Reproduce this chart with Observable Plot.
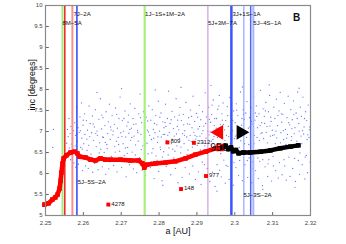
<!DOCTYPE html>
<html><head><meta charset="utf-8">
<script src="https://cdn.jsdelivr.net/npm/d3@7"></script>
<script src="https://cdn.jsdelivr.net/npm/@observablehq/plot@0.6"></script>
<style>body{margin:0;background:#fff;}</style>
</head><body><div id="chart"></div>
<script>
// resonance lines
const resA = [2.2545, 2.2551, 2.2571, 2.2583, 2.2762, 2.2929, 2.2991, 2.3024, 2.3042, 2.3049];
const resColor = ["#a6e87a", "#ee2222", "#f49090", "#2a44ff", "#a8f07a", "#c48ae0", "#3a55ff", "#8090ff", "#4a66ff", "#a8b6ff"];
const resWidth = [2, 1.5, 2, 1.5, 2.2, 1, 2.5, 1, 1.5, 2];
// resonance labels
const resLabel = ["7J\u22122A", "8M\u22125A", "1J\u22121S+1M\u22122A", "5J+3M\u22127A", "3J+1S\u22121A", "5J\u22124S\u22121A", "5J\u22125S\u22122A", "5J\u22123S\u22122A"];
const resLabelA = [2.2574, 2.2545, 2.2763, 2.2929, 2.2994, 2.3049, 2.2585, 2.3023];
const resLabelI = [9.79, 9.57, 9.79, 9.57, 9.79, 9.57, 5.79, 5.48];
// red track (past) and black track (future)
const redA = [2.2497, 2.2508, 2.2518, 2.2526, 2.2532, 2.2537, 2.2540, 2.2542, 2.2545, 2.2548, 2.2555, 2.2566, 2.2577, 2.2584, 2.2590, 2.2606, 2.2619, 2.2632, 2.2645, 2.2658, 2.2672, 2.2698, 2.2724, 2.2746, 2.2756, 2.2761, 2.2767, 2.2790, 2.2817, 2.2843, 2.2870, 2.2896, 2.2923, 2.2949, 2.2967];
const redI = [5.26, 5.29, 5.38, 5.43, 5.50, 5.64, 5.83, 6.02, 6.24, 6.36, 6.43, 6.50, 6.52, 6.48, 6.40, 6.38, 6.33, 6.31, 6.36, 6.33, 6.33, 6.33, 6.31, 6.31, 6.24, 6.14, 6.21, 6.24, 6.26, 6.29, 6.36, 6.45, 6.52, 6.60, 6.62];
const blackA = [2.2967, 2.2976, 2.2983, 2.2990, 2.2996, 2.3003, 2.3010, 2.3023, 2.3041, 2.3068, 2.3094, 2.3120, 2.3147, 2.3168];
const blackI = [6.62, 6.66, 6.58, 6.62, 6.53, 6.56, 6.48, 6.50, 6.50, 6.52, 6.55, 6.60, 6.64, 6.67];
// numbered asteroids
const numA = [2.2822, 2.2892, 2.2924, 2.2858, 2.2666];
const numI = [6.74, 6.73, 5.94, 5.63, 5.26];
const numLabel = ["809", "2312", "977", "148", "4278"];
// background asteroids
const background = [
[2.2521,7.05],[2.2519,6.62],
[2.2556,6.72],[2.2558,7.05],[2.2560,6.88],[2.2562,7.31],[2.2563,6.61],[2.2565,6.95],[2.2567,7.12],[2.2569,6.70],[2.2571,7.44],[2.2572,6.83],[2.2574,7.02],[2.2575,6.25],
[2.2577,7.21],[2.2579,6.91],[2.2580,6.15],[2.2582,7.58],[2.2584,6.77],[2.2586,7.09],[2.2587,6.22],[2.2589,6.98],[2.2591,7.35],[2.2593,6.62],[2.2595,7.68],[2.2596,6.84],[2.2598,6.07],[2.2599,7.15],
[2.2601,6.71],[2.2603,7.42],[2.2604,6.93],[2.2606,6.18],[2.2608,7.26],[2.2610,6.55],[2.2611,7.03],[2.2613,6.12],[2.2615,7.61],[2.2617,6.88],[2.2618,7.19],[2.2620,6.46],[2.2622,6.97],[2.2624,7.37],[2.2625,6.03],
[2.2627,6.79],[2.2629,7.11],[2.2630,6.24],[2.2632,7.52],[2.2634,6.64],[2.2636,7.01],[2.2637,6.91],[2.2639,6.09],[2.2641,7.29],[2.2643,6.73],[2.2645,7.78],[2.2646,6.58],[2.2648,7.06],[2.2650,6.16],
[2.2652,7.33],[2.2653,6.86],[2.2655,6.50],[2.2657,7.14],[2.2659,5.98],[2.2660,7.47],[2.2662,6.69],[2.2664,6.95],[2.2666,7.23],[2.2667,6.11],[2.2669,7.65],[2.2671,6.81],[2.2673,7.04],[2.2674,6.41],
[2.2676,7.38],[2.2678,6.92],[2.2680,6.19],[2.2682,7.17],[2.2683,6.64],[2.2685,7.56],[2.2687,6.77],[2.2689,6.04],[2.2690,7.08],[2.2692,6.86],[2.2694,7.31],[2.2696,6.53],[2.2697,7.82],[2.2699,6.97],
[2.2701,6.14],[2.2703,7.26],[2.2705,6.71],[2.2706,7.01],[2.2708,6.43],[2.2710,7.49],[2.2712,6.87],[2.2713,5.92],[2.2715,7.13],[2.2717,6.62],[2.2719,7.39],[2.2720,6.96],[2.2722,6.21],[2.2724,7.66],[2.2725,6.79],
[2.2727,7.08],[2.2729,6.51],[2.2731,7.31],[2.2732,6.11],[2.2734,6.89],[2.2736,7.55],[2.2738,6.68],[2.2739,7.18],[2.2741,6.02],[2.2743,7.02],[2.2745,6.77],[2.2746,7.42],[2.2748,6.38],[2.2750,7.89],
[2.2752,6.93],[2.2754,7.21],[2.2755,6.08],[2.2757,6.66],[2.2759,7.47],[2.2761,6.85],[2.2762,7.12],[2.2764,5.95],[2.2766,7.34],[2.2768,6.72],[2.2769,7.03],[2.2771,6.47],[2.2773,7.61],[2.2775,6.91],
[2.2777,6.14],[2.2778,7.27],[2.2780,6.81],[2.2782,7.52],[2.2784,6.59],[2.2785,7.05],[2.2787,5.88],[2.2789,6.97],[2.2791,7.38],[2.2792,6.42],[2.2794,7.16],[2.2796,6.74],[2.2798,7.72],[2.2799,6.05],
[2.2801,7.01],[2.2803,6.63],[2.2805,7.44],[2.2806,6.87],[2.2808,5.83],[2.2810,7.23],[2.2812,6.52],[2.2813,7.09],[2.2815,6.93],[2.2817,7.65],[2.2819,6.17],[2.2820,6.79],[2.2822,7.31],[2.2824,6.44],[2.2825,7.96],
[2.2827,6.98],[2.2829,7.19],[2.2831,5.97],[2.2833,6.71],[2.2834,7.48],[2.2836,6.58],[2.2838,7.07],[2.2840,6.89],[2.2841,7.35],[2.2843,6.12],[2.2845,7.78],[2.2847,6.66],[2.2848,7.12],[2.2850,5.78],
[2.2852,7.04],[2.2854,6.83],[2.2855,7.57],[2.2857,6.49],[2.2859,7.26],[2.2861,5.91],[2.2862,6.95],[2.2864,7.41],[2.2866,6.71],[2.2868,7.02],[2.2869,6.14],[2.2871,7.69],[2.2873,6.87],[2.2875,7.18],
[2.2876,6.56],[2.2878,7.33],[2.2880,5.99],[2.2882,6.91],[2.2883,7.51],[2.2885,6.76],[2.2887,7.09],[2.2889,6.18],[2.2890,7.84],[2.2892,6.98],[2.2894,7.24],[2.2896,5.86],[2.2897,6.82],[2.2899,7.43],
[2.2901,6.67],[2.2903,7.06],[2.2904,6.04],[2.2906,7.62],[2.2908,6.89],[2.2910,7.28],[2.2911,5.74],[2.2913,6.95],[2.2915,7.47],[2.2917,6.73],[2.2918,7.13],[2.2920,6.21],[2.2922,7.92],[2.2924,6.84],[2.2925,7.35],
[2.2927,6.12],[2.2929,7.01],[2.2931,7.58],[2.2932,6.92],[2.2934,5.81],[2.2936,7.22],[2.2938,6.77],[2.2939,7.41],[2.2941,6.03],[2.2943,7.75],[2.2945,6.88],[2.2946,7.14],[2.2948,5.69],[2.2950,6.97],
[2.2952,7.31],[2.2953,6.21],[2.2955,7.53],[2.2957,6.94],[2.2959,7.86],[2.2960,6.08],[2.2962,7.17],[2.2964,5.92],[2.2966,7.42],[2.2968,6.85],[2.2969,7.68],[2.2971,6.32],[2.2973,7.04],[2.2975,5.77],
[2.2976,7.26],[2.2978,6.91],[2.2980,7.59],[2.2982,6.17],[2.2983,7.12],[2.2985,5.86],[2.2987,7.81],[2.2989,6.96],[2.2990,7.37],[2.2992,6.28],[2.2994,7.02],[2.2996,5.72],[2.2997,7.49],[2.2999,6.83],
[2.3001,7.21],[2.3003,6.14],[2.3004,7.66],[2.3006,6.92],[2.3008,7.38],[2.3010,5.95],[2.3011,7.03],[2.3013,6.31],[2.3015,7.94],[2.3017,6.88],[2.3018,7.15],[2.3020,5.83],[2.3022,7.52],[2.3024,6.97],[2.3025,7.29],
[2.3027,6.21],[2.3029,7.44],[2.3031,6.86],[2.3032,7.71],[2.3034,5.91],[2.3036,7.08],[2.3038,6.37],[2.3039,7.33],[2.3041,6.94],[2.3043,7.57],[2.3045,5.78],[2.3046,7.18],[2.3048,6.12],[2.3050,7.83],
[2.3052,6.91],[2.3053,7.27],[2.3055,6.07],[2.3057,7.61],[2.3059,6.86],[2.3060,7.09],[2.3062,5.88],[2.3064,7.42],[2.3066,6.29],[2.3068,7.98],[2.3069,6.95],[2.3071,7.21],[2.3073,5.71],[2.3075,7.54],
[2.3076,6.83],[2.3078,7.36],[2.3080,6.16],[2.3082,7.69],[2.3083,6.98],[2.3085,7.12],[2.3087,5.93],[2.3089,7.47],[2.3090,6.33],[2.3092,7.86],[2.3094,6.89],[2.3096,7.24],[2.3097,5.82],[2.3099,7.03],
[2.3101,6.41],[2.3103,7.58],[2.3104,6.92],[2.3106,7.31],[2.3108,6.07],[2.3110,7.77],[2.3111,6.85],[2.3113,7.14],[2.3115,5.89],[2.3117,7.49],[2.3118,6.26],[2.3120,7.93],[2.3122,6.97],[2.3124,7.22],[2.3125,5.97],
[2.3127,7.41],[2.3129,6.81],[2.3131,7.67],[2.3132,6.18],[2.3134,7.05],[2.3136,5.84],[2.3138,7.33],[2.3139,6.93],[2.3141,7.84],[2.3143,6.39],[2.3145,7.16],[2.3146,5.93],[2.3148,7.52],[2.3150,6.88],
[2.3152,7.28],[2.3153,6.12],[2.3155,7.73],[2.3157,6.95],[2.3159,7.09],[2.3160,5.81],[2.3162,7.44],[2.3164,6.77],[2.3166,7.94],[2.3168,6.31],[2.3169,7.19],[2.3171,5.98],[2.3173,7.58],[2.3175,6.89],
[2.3176,7.36],[2.3178,6.21],[2.3180,7.82],[2.3182,6.94],[2.3183,7.11],[2.3185,5.87],[2.3187,7.47],[2.3189,6.43],[2.3190,7.26],[2.3192,6.02],[2.3194,7.63],[2.3196,6.86],[2.3197,7.04],[2.3199,6.27]
];
const backgroundCore = [
[2.2561,6.48],[2.2578,6.66],[2.2592,7.02],[2.2597,6.58],[2.2609,6.82],[2.2616,6.37],[2.2633,6.95],[2.2642,6.49],[2.2651,6.87],[2.2663,6.59],
[2.2672,7.11],[2.2684,6.51],[2.2693,6.69],[2.2702,6.88],[2.2711,6.61],[2.2718,7.22],[2.2728,6.86],[2.2737,6.44],[2.2744,6.97],[2.2753,6.57],
[2.2763,6.68],[2.2772,6.99],[2.2781,6.49],[2.2788,7.19],[2.2797,6.87],[2.2804,6.57],[2.2811,6.93],[2.2818,7.12],[2.2826,6.61],[2.2835,6.82],
[2.2842,6.53],[2.2849,7.27],[2.2858,6.63],[2.2867,6.91],[2.2874,6.45],[2.2881,7.17],[2.2888,6.63],[2.2895,6.91],[2.2902,7.34],[2.2909,6.56],
[2.2916,7.02],[2.2923,7.19],[2.2933,7.29],[2.2942,6.81],[2.2951,7.08],[2.2958,7.61],[2.2967,7.27],[2.2974,6.79],[2.2981,7.38],[2.2988,6.71],
[2.2995,7.26],[2.3002,6.89],[2.3009,7.12],[2.3016,6.78],[2.3023,7.41],[2.3030,6.99],[2.3037,6.69],[2.3044,7.24],[2.3051,6.71],[2.3058,7.36],
[2.3065,6.79],[2.3072,6.97],[2.3079,7.19],[2.3086,6.73],[2.3093,7.13],[2.3100,6.91],[2.3107,6.71],[2.3114,7.38],[2.3121,6.73],[2.3128,7.02],
[2.3135,6.69],[2.3142,7.21],[2.3149,6.79],[2.3156,7.41],[2.3163,6.63],[2.3170,7.01],[2.3177,6.71],[2.3184,7.31],[2.3191,6.81],[2.3198,7.11],
[2.2566,6.33],[2.2583,6.94],[2.2600,7.27],[2.2614,6.67],[2.2626,7.18],[2.2638,6.35],[2.2649,7.39],[2.2658,6.74],[2.2670,6.28],[2.2679,7.01],
[2.2688,7.41],[2.2698,6.36],[2.2707,7.31],[2.2716,6.48],[2.2723,7.05],[2.2733,7.17],[2.2742,6.26],[2.2751,7.33],[2.2760,6.21],[2.2770,7.25],
[2.2779,6.28],[2.2786,6.84],[2.2795,6.31],[2.2802,7.34],[2.2809,6.39],[2.2816,7.21],[2.2823,6.91],[2.2832,7.28],[2.2839,6.37],[2.2846,6.94],
[2.2853,7.39],[2.2860,6.36],[2.2865,7.16],[2.2872,6.41],[2.2879,6.79],[2.2886,7.36],[2.2893,6.41],[2.2900,6.88],[2.2907,7.12],[2.2914,6.27],
[2.2921,6.66],[2.2928,6.49],[2.2935,6.99],[2.2940,7.63],[2.2947,7.31],[2.2954,6.86],[2.2963,6.47],[2.2970,7.17],[2.2977,6.19],[2.2984,6.88],
[2.2991,7.07],[2.2998,6.26],[2.3005,7.51],[2.3012,6.62],[2.3019,7.31],[2.3026,6.71],[2.3033,6.31],[2.3040,7.11],[2.3047,6.28],[2.3054,7.44],
[2.3061,6.37],[2.3067,7.14],[2.3074,6.33],[2.3081,7.49],[2.3088,6.23],[2.3095,7.34],[2.3102,6.18],[2.3109,7.01],[2.3116,6.58],[2.3123,7.42],
[2.3130,6.33],[2.3137,6.84],[2.3144,6.61],[2.3151,7.07],[2.3158,6.36],[2.3165,7.31],[2.3172,6.49],[2.3179,7.02],[2.3186,6.39],[2.3193,6.92],
[2.2636,7.93],[2.2701,8.02],[2.2790,7.99],[2.2858,8.05],[2.2937,8.10],[2.3020,8.06],[2.3091,8.11],[2.3170,8.03],[2.2810,5.72],[2.2953,5.58],
[2.3074,5.62],[2.3159,5.67],[2.3059,5.51]
];
// axes
const xTicks = [2.25, 2.26, 2.27, 2.28, 2.29, 2.30, 2.31, 2.32];
const yTicks = [5, 5.5, 6, 6.5, 7, 7.5, 8, 8.5, 9, 9.5, 10];
// target 950 and triangles
const targetA = 2.2961, targetI = 6.62;
const triA = [2.2958, 2.3016];
const triI = [6.98, 6.98];

const res = resA.map((a, k) => ({a, c: resColor[k], w: resWidth[k]}));
const resLab = resLabel.map((t, k) => ({t, a: resLabelA[k], i: resLabelI[k]}));
const red = redA.map((a, k) => ({a, i: redI[k]}));
const black = blackA.map((a, k) => ({a, i: blackI[k]}));
const nums = numA.map((a, k) => ({a, i: numI[k], t: numLabel[k]}));
const tris = triA.map((a, k) => ({a, i: triI[k], c: k ? "black" : "red", r: k ? 90 : -90}));
const bg = background.concat(backgroundCore);

const chart = Plot.plot({
  width: 346, height: 244,
  marginLeft: 45, marginRight: 36, marginTop: 5, marginBottom: 29,
  x: {domain: [2.25, 2.32]},
  y: {domain: [5, 10]},
  style: {fontFamily: "'Liberation Sans', Arial, sans-serif", background: "white", color: "#222"},
  marks: [
    Plot.dot(bg, {x: d => d[0], y: d => d[1], r: 0.65, fill: "#3a58ff", fillOpacity: 0.8, stroke: "none"}),
    Plot.ruleX(res, {x: "a", stroke: "c", strokeWidth: "w"}),
    Plot.line(red, {x: "a", y: "i", stroke: "#ff0000", strokeWidth: 4.5, strokeLinejoin: "round"}),
    Plot.dot(red, {x: "a", y: "i", symbol: "square", r: 2.6, fill: "#ff0000"}),
    Plot.line(black, {x: "a", y: "i", stroke: "black", strokeWidth: 4.5, strokeLinejoin: "round"}),
    Plot.dot(black, {x: "a", y: "i", symbol: "square", r: 2.6, fill: "black"}),
    Plot.dot(nums, {x: "a", y: "i", symbol: "square", r: 2.2, fill: "#ff0000"}),
    Plot.text(nums, {x: "a", y: "i", text: "t", textAnchor: "start", dx: 3, dy: -1, fontSize: 6, fill: "#111"}),
    Plot.dot([0], {x: () => targetA, y: () => targetI, symbol: "square", r: 3.5, stroke: "#ff0000", fill: "none", strokeWidth: 1.2}),
    Plot.text(["950"], {x: () => targetA, y: () => targetI, text: d => d, fontSize: 10.5, fill: "#111", dx: -1, dy: 0}),
    Plot.dot(tris, {x: "a", y: "i", symbol: "triangle2", r: 7, fill: "c", rotate: "r"}),
    Plot.text(resLab, {x: "a", y: "i", text: "t", textAnchor: "start", fontSize: 6, fill: "#111"}),
    Plot.text(["B"], {x: () => 2.3163, y: () => 9.71, text: d => d, fontSize: 10, fontWeight: "bold", fill: "#111"}),
    Plot.ruleX(xTicks, {x: d => d, y1: 5, y2: 5.07, stroke: "#666"}),
    Plot.ruleY(yTicks, {y: d => d, x1: 2.25, x2: 2.251, stroke: "#666"}),
    Plot.frame({stroke: "#8a8a8a", strokeWidth: 1.2}),
    Plot.axisX(xTicks, {tickSize: 0, tickPadding: 5, fontSize: 6, fill: "#444", tickFormat: d => String(+d.toFixed(2)), label: null}),
    Plot.axisY(yTicks, {tickSize: 0, tickPadding: 3, fontSize: 6, fill: "#444", tickFormat: d => String(d), label: null}),
    Plot.text(["a [AU]"], {frameAnchor: "bottom", text: d => d, dy: 18, fontSize: 9, fill: "#111"}),
    Plot.text(["inc [degrees]"], {frameAnchor: "left", text: d => d, dx: -13, rotate: -90, fontSize: 9, fill: "#111"})
  ]
});
document.getElementById("chart").append(chart);
</script>
</body></html>
